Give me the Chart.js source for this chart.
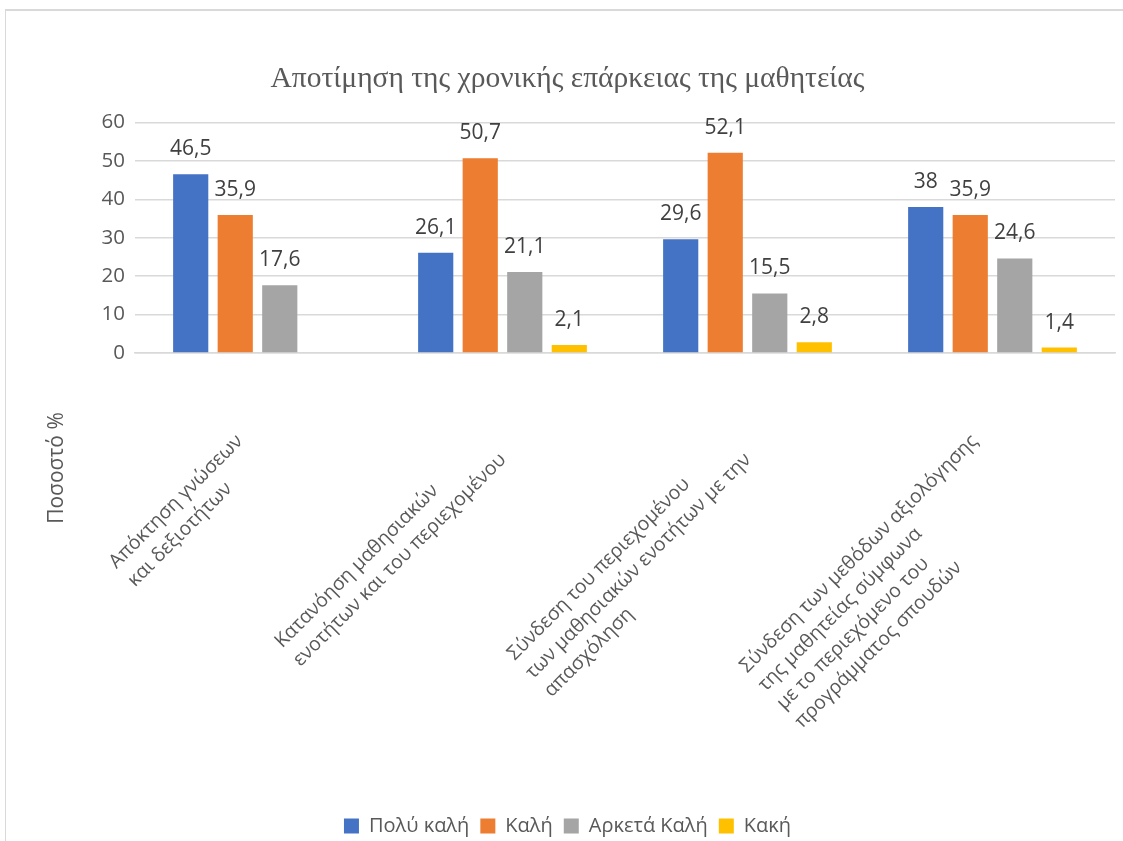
<!DOCTYPE html>
<html>
<head>
<meta charset="utf-8">
<script src="https://cdn.jsdelivr.net/npm/chart.js"></script>
<style>
  body { margin: 0; background: #fff; overflow: hidden; }
  #wrap { position: relative; width: 1123px; height: 846px; }
  #frame { position: absolute; left: 5px; top: 9px; width: 1130px; height: 850px;
           border-top: 2px solid #d9d9d9; border-left: 1px solid #d9d9d9; pointer-events: none; }
</style>
</head>
<body>
<div id="wrap"><canvas id="chart"></canvas><div id="frame"></div></div>
<script>
// categories, one array of lines per label
const categories = [
    ['Απόκτηση γνώσεων', 'και δεξιοτήτων'],
    ['Κατανόηση μαθησιακών', 'ενοτήτων και του περιεχομένου'],
    ['Σύνδεση του περιεχομένου', 'των μαθησιακών ενοτήτων με την', 'απασχόληση'],
    ['Σύνδεση των μεθόδων αξιολόγησης', 'της μαθητείας σύμφωνα', 'με το περιεχόμενο του', 'προγράμματος σπουδών']
];
const seriesNames = ['Πολύ καλή', 'Καλή', 'Αρκετά Καλή', 'Κακή'];
const polyKali = [46.5, 26.1, 29.6, 38];
const kali = [35.9, 50.7, 52.1, 35.9];
const arketaKali = [17.6, 21.1, 15.5, 24.6];
const kaki = [null, 2.1, 2.8, 1.4];
const yMin = 0, yMax = 60, yStep = 10;

const colors = ['#4472C4', '#ED7D31', '#A5A5A5', '#FFC000'];
const textFont = "'Open Sans', 'Noto Sans', sans-serif";

// value labels above the bars, decimal comma
const valueLabels = {
    id: 'valueLabels',
    afterDatasetsDraw(chart) {
        const ctx = chart.ctx;
        ctx.save();
        ctx.font = '21px ' + textFont;
        ctx.fillStyle = '#404040';
        ctx.textAlign = 'center';
        ctx.textBaseline = 'middle';
        chart.data.datasets.forEach((ds, i) => {
            chart.getDatasetMeta(i).data.forEach((bar, j) => {
                const v = ds.data[j];
                if (v === null) return;
                ctx.fillText(String(v).replace('.', ','), bar.x, bar.y - 25);
            });
        });
        ctx.restore();
    }
};

// rotated, left aligned category labels (like the original)
const catLabels = {
    id: 'catLabels',
    afterDraw(chart) {
        const ctx = chart.ctx;
        const xs = chart.scales.x;
        const lh = 26;
        ctx.save();
        ctx.font = '19.5px ' + textFont;
        ctx.fillStyle = '#595959';
        ctx.textAlign = 'left';
        ctx.textBaseline = 'middle';
        categories.forEach((lines, i) => {
            const w = Math.max(...lines.map(l => ctx.measureText(l).width));
            ctx.save();
            ctx.translate(xs.getPixelForTick(i) - 27, xs.top + 76);
            ctx.rotate(-Math.PI / 4);
            lines.forEach((l, k) => ctx.fillText(l, -w, (k + 0.5) * lh));
            ctx.restore();
        });
        ctx.restore();
    }
};

// y title, centred on the whole chart height
const yTitle = {
    id: 'yTitle',
    afterDraw(chart) {
        const ctx = chart.ctx;
        ctx.save();
        ctx.font = '21px ' + textFont;
        ctx.fillStyle = '#595959';
        ctx.textAlign = 'center';
        ctx.textBaseline = 'middle';
        ctx.translate(57, 468);
        ctx.rotate(-Math.PI / 2);
        ctx.fillText('Ποσοστό %', 0, 0);
        ctx.restore();
    }
};

const datasets = [polyKali, kali, arketaKali, kaki].map((d, i) => ({
    label: seriesNames[i],
    data: d,
    backgroundColor: colors[i],
    borderWidth: 0,
    categoryPercentage: 0.727,
    barPercentage: 0.79
}));

const ctx = document.getElementById('chart').getContext('2d');
new Chart(ctx, {
    type: 'bar',
    data: {
        labels: categories,
        datasets: datasets
    },
    options: {
        responsive: true,
        maintainAspectRatio: false,
        animation: false,
        layout: {
            padding: { left: 20, right: 8, top: 0, bottom: 0 }
        },
        plugins: {
            title: {
                display: true,
                text: 'Αποτίμηση της χρονικής επάρκειας της μαθητείας',
                color: '#595959',
                font: { family: "'Liberation Serif', serif", size: 29.5, weight: 'normal' },
                padding: { top: 62, bottom: 25 }
            },
            legend: {
                position: 'bottom',
                labels: {
                    boxWidth: 15,
                    boxHeight: 15,
                    padding: 11,
                    color: '#595959',
                    font: { family: textFont, size: 20 }
                }
            },
            tooltip: { enabled: false }
        },
        scales: {
            x: {
                grid: { display: false },
                border: { display: true, color: '#d9d9d9', width: 1.5 },
                ticks: { display: false },
                afterFit: s => { s.height = 452; }
            },
            y: {
                min: yMin,
                max: yMax,
                ticks: {
                    stepSize: yStep,
                    padding: 10,
                    color: '#595959',
                    font: { family: textFont, size: 20.5 }
                },
                grid: { color: '#d9d9d9', lineWidth: 1.5, drawTicks: false },
                border: { display: false },
                afterFit: s => { s.width = 115; }
            }
        }
    },
    plugins: [valueLabels, catLabels, yTitle]
});
</script>
</body>
</html>
